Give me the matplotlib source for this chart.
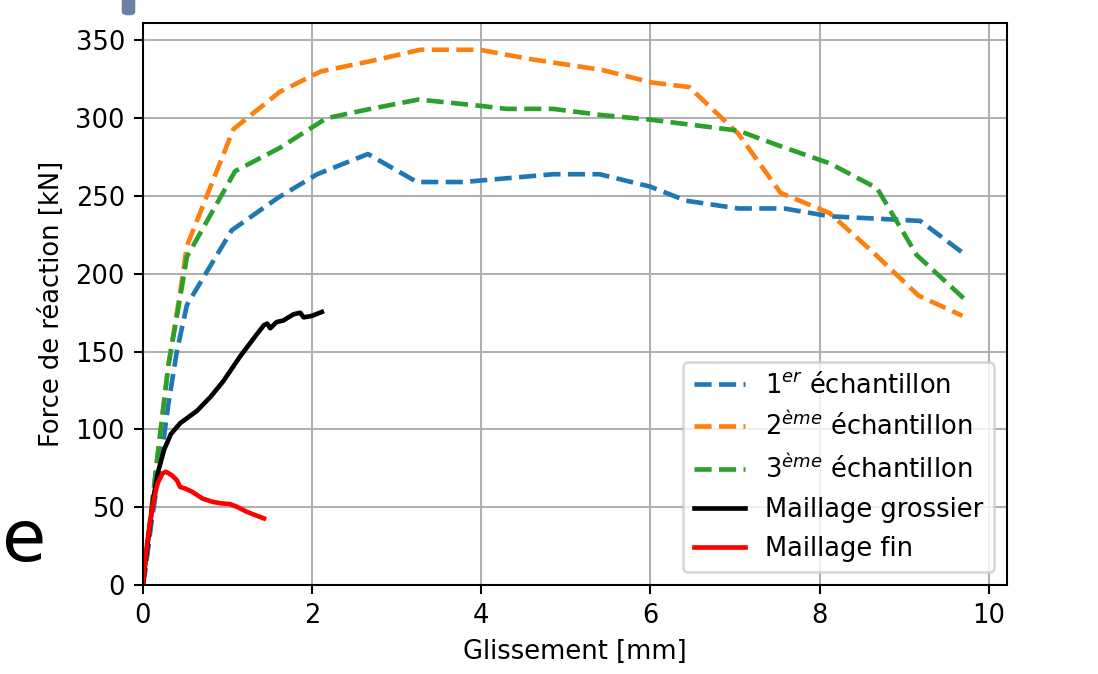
import matplotlib.pyplot as plt
from matplotlib.patches import FancyBboxPatch

# Essai 1
x_ech1 = [0, 0.03, 0.1, 0.2, 0.3, 0.4, 0.52, 1.05, 1.6, 2.06, 2.66, 3.24, 3.79,
          4.85, 5.40, 6.0, 6.42, 7.04, 7.58, 8.12, 9.19, 9.73]
y_ech1 = [0, 10, 40, 76, 116, 150, 180, 228, 249, 264, 277, 259, 259,
          264, 264, 256, 247, 242, 242, 237, 234, 212]

# Essai 2
x_ech2 = [0, 0.16, 0.3, 0.44, 0.52, 1.07, 1.62, 2.10, 2.72, 3.28, 3.98, 4.58,
          5.43, 6.01, 6.46, 7.04, 7.54, 8.12, 8.65, 9.17, 9.69]
y_ech2 = [0, 77, 141, 188, 218, 293, 317, 330, 337, 344, 344, 338,
          331, 323, 320, 290, 252, 239, 213, 186, 173]

# Essai 3
x_ech3 = [0, 0.16, 0.3, 0.44, 0.52, 1.09, 1.62, 2.17, 2.69, 3.26, 3.98, 4.30,
          4.85, 5.43, 6.01, 7.04, 7.54, 8.12, 8.68, 9.15, 9.73]
y_ech3 = [0, 77, 141, 185, 211, 266, 281, 300, 306, 312, 308, 306,
          306, 302, 299, 292, 282, 271, 255, 212, 183]

# Modele - maillage grossier
x_gros = [0, 0.03, 0.07, 0.12, 0.18, 0.25, 0.33, 0.44, 0.64, 0.80, 0.95, 1.15, 1.33,
          1.43, 1.47, 1.505, 1.58, 1.66, 1.78, 1.86, 1.90, 2.0, 2.115]
y_gros = [0, 15, 33, 55, 73, 87, 97, 104, 112, 121, 131, 147, 160,
          167, 168, 165, 169, 170, 174, 175, 172, 173, 175.5]

# Modele - maillage fin
x_fin = [0, 0.02, 0.05, 0.11, 0.17, 0.23, 0.27, 0.34, 0.40, 0.44, 0.50, 0.58,
         0.70, 0.82, 0.92, 1.03, 1.11, 1.23, 1.43]
y_fin = [0, 12, 27, 50, 65, 71.7, 72.8, 70.6, 67.4, 63, 62, 60,
         55.7, 53.5, 52.5, 52, 50.3, 47, 42.8]

lw = 1.8

fig = plt.figure(figsize=(1098 / 185, 674 / 185), dpi=185)
ax = fig.add_axes([0.1302, 0.132, 0.9171 - 0.1302, 0.9659 - 0.132])

ax.plot(x_ech1, y_ech1, '--', color='C0', lw=lw, label=r'1$^{er}$ échantillon')
ax.plot(x_ech2, y_ech2, '--', color='C1', lw=lw, label=r'2$^{ème}$ échantillon')
ax.plot(x_ech3, y_ech3, '--', color='C2', lw=lw, label=r'3$^{ème}$ échantillon')
ax.plot(x_gros, y_gros, '-', color='k', lw=lw, label='Maillage grossier')
ax.plot(x_fin, y_fin, '-', color='r', lw=lw, label='Maillage fin')

ax.set_xlim(left=0)
ax.set_ylim(bottom=0)
ax.set_xlabel('Glissement [mm]')
ax.set_ylabel('Force de réaction [kN]')
ax.grid(True)
ax.legend(loc='lower right')

# restes de la diapositive autour de la capture
fig.text(0.002, 0.168, 'e', fontsize=28, color='black', ha='left', va='baseline')
fig.patches.append(FancyBboxPatch((123 / 1098, 1 - 14 / 674), 11 / 1098, 22 / 674,
                                  boxstyle='round,pad=0,rounding_size=0.004',
                                  transform=fig.transFigure, color='#6b80a3',
                                  figure=fig))

fig.savefig('out.png', dpi=185)
